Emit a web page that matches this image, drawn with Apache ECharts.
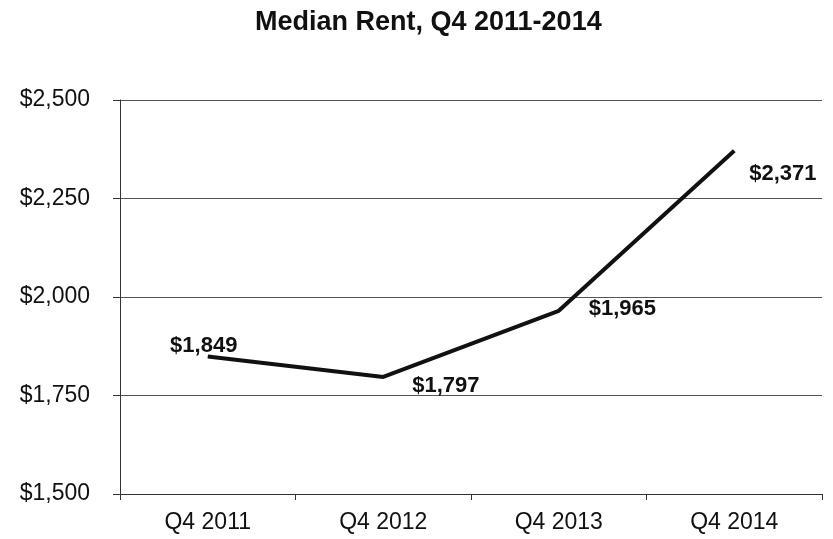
<!DOCTYPE html>
<html>
<head>
<meta charset="utf-8">
<script src="https://cdn.jsdelivr.net/npm/echarts@6/dist/echarts.min.js"></script>
<style>
  html, body { margin: 0; padding: 0; background: #fff; }
  #chart { width: 833px; height: 539px; }
</style>
</head>
<body>
<div id="chart"></div>
<script>
const categories = ['Q4 2011', 'Q4 2012', 'Q4 2013', 'Q4 2014'];
const rentValues = [1849, 1797, 1965, 2371];
// where each value label sits relative to its point
const labelPositions = ['top', 'right', 'right', 'right'];
const labelShiftX = [-4, 23, 24, 9];
const labelShiftY = [6, 9, -2, 23];

const fontFamily = '"Liberation Sans", Arial, sans-serif';

const chart = echarts.init(document.getElementById('chart'));

const seriesData = rentValues.map((v, i) => ({
  value: v,
  label: { show: true, position: labelPositions[i] }
}));

chart.setOption({
  animation: false,
  title: {
    text: 'Median Rent, Q4 2011-2014',
    left: 255,
    top: 9,
    padding: 0,
    textStyle: {
      fontFamily: fontFamily,
      fontSize: 27,
      fontWeight: 'bold',
      color: '#111'
    }
  },
  grid: {
    left: 120,
    right: 11,
    top: 100,
    bottom: 45
  },
  xAxis: {
    type: 'category',
    data: categories,
    boundaryGap: true,
    axisLine: { lineStyle: { color: '#333', width: 1 } },
    axisTick: { show: true, length: 6, lineStyle: { color: '#333' } },
    axisLabel: {
      color: '#111',
      fontFamily: fontFamily,
      fontSize: 23,
      margin: 17
    },
    splitLine: { show: false }
  },
  yAxis: {
    type: 'value',
    min: 1500,
    max: 2500,
    interval: 250,
    axisLine: { show: true, lineStyle: { color: '#333', width: 1 } },
    axisTick: { show: true, length: 7, lineStyle: { color: '#333' } },
    axisLabel: {
      color: '#111',
      fontFamily: fontFamily,
      fontSize: 23,
      margin: 30,
      formatter: v => '$' + v.toLocaleString('en-US')
    },
    splitLine: { lineStyle: { color: '#555', width: 1 } }
  },
  series: [
    {
      type: 'line',
      data: seriesData,
      symbol: 'circle',
      symbolSize: 2,
      showSymbol: true,
      itemStyle: { color: 'rgba(0,0,0,0)', borderWidth: 0 },
      lineStyle: { color: '#111', width: 4 },
      label: {
        show: true,
        color: '#111',
        fontFamily: fontFamily,
        fontSize: 22,
        fontWeight: 'bold',
        formatter: p => '$' + p.value.toLocaleString('en-US')
      },
      labelLayout: params => ({
        dx: labelShiftX[params.dataIndex],
        dy: labelShiftY[params.dataIndex],
        hideOverlap: false
      })
    }
  ]
});
</script>
</body>
</html>
